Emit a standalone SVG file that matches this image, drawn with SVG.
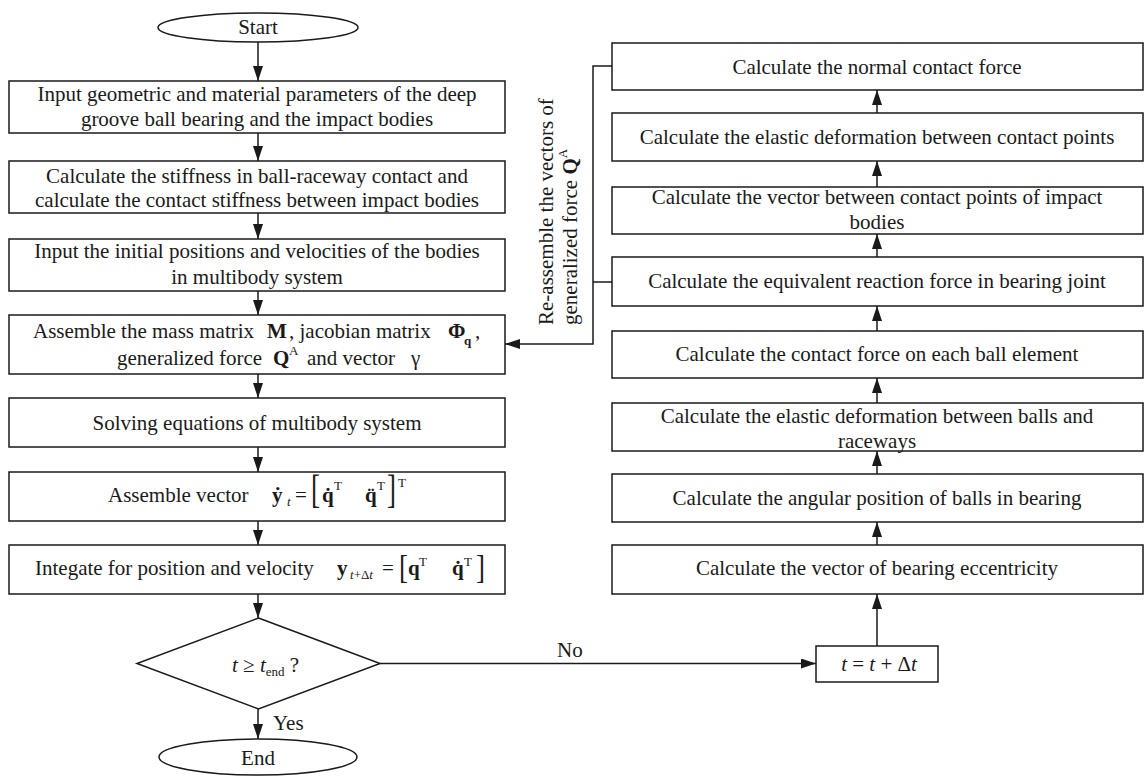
<svg xmlns="http://www.w3.org/2000/svg" width="1145" height="776" viewBox="0 0 1145 776">
<style>
.shape { fill: #ffffff; stroke: #1a1a1a; stroke-width: 1.5; }
.t { font-family: "Liberation Serif", "DejaVu Serif", serif; font-size: 21px; fill: #1a1a1a; }
.c { text-anchor: middle; }
.b { font-weight: bold; }
.i { font-style: italic; }
.s { font-size: 13px; }
.br { font-size: 27px; }
.conn { fill: none; stroke: #1a1a1a; stroke-width: 1.5; }
</style>
<defs>
<marker id="ah" markerUnits="userSpaceOnUse" markerWidth="15" markerHeight="10" refX="15" refY="5" orient="auto">
<path d="M0,0 L15,5 L0,10 Z" fill="#1a1a1a"/>
</marker>
</defs>
<rect width="1145" height="776" fill="#ffffff"/>

<g id="connectors">
<line class="conn" x1="258" y1="42" x2="258" y2="81" marker-end="url(#ah)"/>
<line class="conn" x1="258" y1="133" x2="258" y2="161" marker-end="url(#ah)"/>
<line class="conn" x1="258" y1="213" x2="258" y2="239" marker-end="url(#ah)"/>
<line class="conn" x1="258" y1="291" x2="258" y2="315" marker-end="url(#ah)"/>
<line class="conn" x1="258" y1="374" x2="258" y2="398" marker-end="url(#ah)"/>
<line class="conn" x1="258" y1="447" x2="258" y2="472" marker-end="url(#ah)"/>
<line class="conn" x1="258" y1="521" x2="258" y2="545" marker-end="url(#ah)"/>
<line class="conn" x1="258" y1="594" x2="258" y2="618" marker-end="url(#ah)"/>
<line class="conn" x1="258" y1="709" x2="258" y2="739" marker-end="url(#ah)"/>
<line class="conn" x1="877" y1="113" x2="877" y2="90" marker-end="url(#ah)"/>
<line class="conn" x1="877" y1="187" x2="877" y2="161" marker-end="url(#ah)"/>
<line class="conn" x1="877" y1="257" x2="877" y2="234" marker-end="url(#ah)"/>
<line class="conn" x1="877" y1="331" x2="877" y2="306" marker-end="url(#ah)"/>
<line class="conn" x1="877" y1="403" x2="877" y2="378" marker-end="url(#ah)"/>
<line class="conn" x1="877" y1="474" x2="877" y2="451" marker-end="url(#ah)"/>
<line class="conn" x1="877" y1="545" x2="877" y2="522" marker-end="url(#ah)"/>
<line class="conn" x1="877" y1="646" x2="877" y2="594" marker-end="url(#ah)"/>
<line class="conn" x1="380" y1="663.5" x2="816" y2="663.5" marker-end="url(#ah)"/>
<polyline class="conn" points="612,66 593,66 593,344 505,344" marker-end="url(#ah)"/>
<line class="conn" x1="612" y1="282" x2="593" y2="282"/>
<text class="t" x="557" y="657">No</text>
<text class="t" x="273" y="730">Yes</text>
<text class="t" transform="translate(553,325) rotate(-90)" x="0" y="0">Re-assemble the vectors of</text>
<text class="t" transform="translate(577,325) rotate(-90)" x="0" y="0">generalized force <tspan class="b">Q</tspan><tspan class="s" dy="-10">A</tspan></text>
</g>

<g id="start">
<ellipse class="shape" cx="258" cy="27.5" rx="100" ry="14.5"/>
<text class="t c" x="258" y="34">Start</text>
</g>

<g id="input-params">
<rect class="shape" x="9" y="81" width="496" height="52"/>
<text class="t c" x="257" y="101">Input geometric and material parameters of the deep</text>
<text class="t c" x="257" y="126">groove ball bearing and the impact bodies</text>
</g>

<g id="calc-stiffness">
<rect class="shape" x="9" y="161" width="496" height="52"/>
<text class="t c" x="257" y="183">Calculate the stiffness in ball-raceway contact and</text>
<text class="t c" x="257" y="207">calculate the contact stiffness between impact bodies</text>
</g>

<g id="input-initial">
<rect class="shape" x="9" y="239" width="496" height="52"/>
<text class="t c" x="257" y="258">Input the initial positions and velocities of the bodies</text>
<text class="t c" x="257" y="284">in multibody system</text>
</g>

<g id="assemble-matrix">
<rect class="shape" x="9" y="315" width="496" height="59"/>
<text class="t" y="338"><tspan x="33">Assemble the mass matrix</tspan><tspan x="267" class="b">M</tspan><tspan x="289">, jacobian matrix</tspan><tspan x="448" class="b">Φ</tspan><tspan x="464" y="345" class="b s">q</tspan><tspan x="475" y="338">,</tspan></text>
<text class="t" y="365"><tspan x="117">generalized force</tspan><tspan x="273" class="b">Q</tspan><tspan x="289" y="355" class="s">A</tspan><tspan x="307" y="365">and vector</tspan><tspan x="411">γ</tspan></text>
</g>

<g id="solve">
<rect class="shape" x="9" y="398" width="496" height="49"/>
<text class="t c" x="257" y="430">Solving equations of multibody system</text>
</g>

<g id="assemble-vector">
<rect class="shape" x="9" y="472" width="496" height="49"/>
<text class="t" y="502"><tspan x="108">Assemble vector</tspan><tspan x="272" class="b">ẏ</tspan><tspan x="287" y="506" class="i s">t</tspan><tspan x="295" y="502">=</tspan><tspan x="322" class="b">q̇</tspan><tspan x="334" y="490" class="s">T</tspan><tspan x="365" y="502" class="b">q̈</tspan><tspan x="377" y="490" class="s">T</tspan><tspan x="398" y="487" class="s">T</tspan></text>
<text class="t br" transform="translate(311,503) scale(1,1.45)">[</text>
<text class="t br" transform="translate(387,503) scale(1,1.45)">]</text>
</g>

<g id="integrate">
<rect class="shape" x="9" y="545" width="496" height="49"/>
<text class="t" y="575"><tspan x="35">Integate for position and velocity</tspan><tspan x="337" class="b">y</tspan><tspan x="350" y="579" class="s"><tspan class="i">t</tspan>+Δ<tspan class="i">t</tspan></tspan><tspan x="382" y="575">=</tspan><tspan x="408" class="b">q</tspan><tspan x="419" y="566" class="s">T</tspan><tspan x="452" y="575" class="b">q̇</tspan><tspan x="464" y="566" class="s">T</tspan></text>
<text class="t br" transform="translate(399,578) scale(1,1.25)">[</text>
<text class="t br" transform="translate(476,578) scale(1,1.25)">]</text>
</g>

<g id="decision">
<polygon class="shape" points="258.5,618 380,663.5 258.5,709 137,663.5"/>
<text class="t" x="232" y="672"><tspan class="i">t</tspan> ≥ <tspan class="i">t</tspan><tspan class="s" dy="4">end</tspan><tspan dy="-4"> ?</tspan></text>
</g>

<g id="end">
<ellipse class="shape" cx="258" cy="757" rx="99" ry="18"/>
<text class="t c" x="258" y="765">End</text>
</g>

<g id="normal-force">
<rect class="shape" x="612" y="43" width="531" height="47"/>
<text class="t c" x="877" y="74">Calculate the normal contact force</text>
</g>

<g id="elastic-contact">
<rect class="shape" x="612" y="113" width="531" height="48"/>
<text class="t c" x="877" y="144">Calculate the elastic deformation between contact points</text>
</g>

<g id="vector-contact">
<rect class="shape" x="612" y="187" width="531" height="47"/>
<text class="t c" x="877" y="204">Calculate the vector between contact points of impact</text>
<text class="t c" x="877" y="229">bodies</text>
</g>

<g id="equivalent-force">
<rect class="shape" x="612" y="257" width="531" height="49"/>
<text class="t c" x="877" y="288">Calculate the equivalent reaction force in bearing joint</text>
</g>

<g id="ball-force">
<rect class="shape" x="612" y="331" width="531" height="47"/>
<text class="t c" x="877" y="361">Calculate the contact force on each ball element</text>
</g>

<g id="elastic-balls">
<rect class="shape" x="612" y="403" width="531" height="48"/>
<text class="t c" x="877" y="423">Calculate the elastic deformation between balls and</text>
<text class="t c" x="877" y="448">raceways</text>
</g>

<g id="angular-position">
<rect class="shape" x="612" y="474" width="531" height="48"/>
<text class="t c" x="877" y="505">Calculate the angular position of balls in bearing</text>
</g>

<g id="eccentricity">
<rect class="shape" x="612" y="545" width="531" height="49"/>
<text class="t c" x="877" y="575">Calculate the vector of bearing eccentricity</text>
</g>

<g id="time-step">
<rect class="shape" x="816" y="646" width="122" height="36"/>
<text class="t c" x="879" y="671"><tspan class="i">t</tspan> = <tspan class="i">t</tspan> + Δ<tspan class="i">t</tspan></text>
</g>
</svg>
